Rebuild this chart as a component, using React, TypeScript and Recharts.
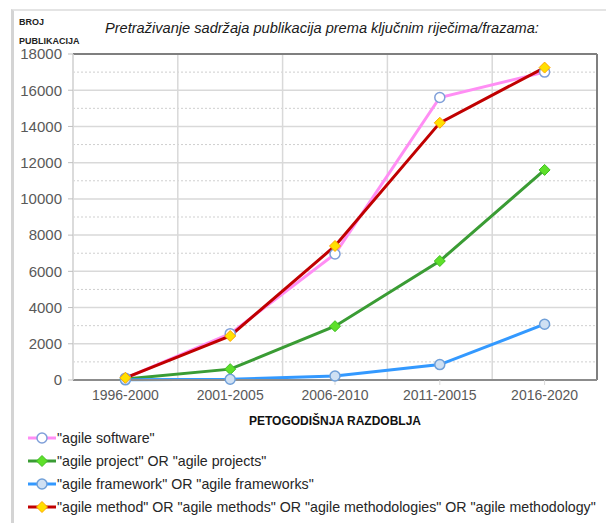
import { LineChart, Line, XAxis, YAxis, CartesianGrid, Legend, Label, ReferenceLine } from "recharts";

const periods = ["1996-2000", "2001-2005", "2006-2010", "2011-20015", "2016-2020"];
const agileSoftware = [100, 2560, 6960, 15600, 17000];
const agileProject = [50, 600, 2970, 6570, 11600];
const agileFramework = [10, 40, 220, 850, 3080];
const agileMethod = [120, 2430, 7400, 14200, 17250];

const yTicks = [0, 2000, 4000, 6000, 8000, 10000, 12000, 14000, 16000, 18000];
const yMinorTicks = [1000, 3000, 5000, 7000, 9000, 11000, 13000, 15000, 17000];

const data = periods.map((period, i) => ({
  period,
  software: agileSoftware[i],
  project: agileProject[i],
  framework: agileFramework[i],
  method: agileMethod[i],
}));

const FONT = "'Liberation Sans', Arial, sans-serif";

type Marker = { kind: "circle" | "diamond"; fill: string; stroke: string };

const series: { key: string; name: string; color: string; marker: Marker }[] = [
  { key: "software", name: '"agile software"', color: "#ff8ef4", marker: { kind: "circle", fill: "#ffffff", stroke: "#7f9fd9" } },
  { key: "project", name: '"agile project" OR "agile projects"', color: "#3a9c34", marker: { kind: "diamond", fill: "#5ee02a", stroke: "#3fbf22" } },
  { key: "framework", name: '"agile framework" OR "agile frameworks"', color: "#3399ff", marker: { kind: "circle", fill: "#cfe0f3", stroke: "#6f9fd8" } },
  { key: "method", name: '"agile method" OR "agile methods" OR "agile methodologies" OR "agile methodology"', color: "#c00000", marker: { kind: "diamond", fill: "#ffe000", stroke: "#ffa500" } },
];

function drawMarker(m: Marker, cx: number, cy: number, key?: string | number) {
  if (m.kind === "circle") {
    return <circle key={key} cx={cx} cy={cy} r={5} fill={m.fill} stroke={m.stroke} strokeWidth={1.5} />;
  }
  const s = 5.5;
  return (
    <polygon
      key={key}
      points={`${cx},${cy - s} ${cx + s},${cy} ${cx},${cy + s} ${cx - s},${cy}`}
      fill={m.fill}
      stroke={m.stroke}
      strokeWidth={1}
    />
  );
}

function LegendRows() {
  return (
    <div style={{ fontFamily: FONT, fontSize: 14.2, color: "#262626" }}>
      {series.map((s) => (
        <div key={s.key} style={{ display: "flex", alignItems: "center", height: 23, whiteSpace: "nowrap" }}>
          <svg width={30} height={14} style={{ marginRight: 0 }}>
            <line x1={1} y1={7} x2={29} y2={7} stroke={s.color} strokeWidth={3} />
            {drawMarker(s.marker, 15, 7)}
          </svg>
          <span>{s.name}</span>
        </div>
      ))}
    </div>
  );
}

export default function App() {
  return (
    <div style={{ position: "absolute", left: 0, top: 0, width: 606, height: 523, background: "#fff", overflow: "hidden" }}>
      <div style={{ position: "absolute", left: 11, top: 9, width: 600, height: 520, borderLeft: "3px solid #d4d4d4", borderTop: "2px solid #e4e4e4" }} />
      <div style={{ position: "absolute", left: 19, top: 13, fontFamily: FONT, fontSize: 9, fontWeight: "bold", lineHeight: "19px", color: "#222" }}>
        BROJ
        <br />
        PUBLIKACIJA
      </div>
      <div style={{ position: "absolute", left: 105, top: 20, fontFamily: FONT, fontSize: 14.6, fontStyle: "italic", color: "#1a1a1a" }}>
        Pretraživanje sadržaja publikacija prema ključnim riječima/frazama:
      </div>
      <LineChart
        width={606}
        height={523}
        data={data}
        margin={{ top: 54, right: 9, left: 14, bottom: 5 }}
        style={{ position: "absolute", left: 0, top: 0 }}
      >
        <CartesianGrid vertical={false} stroke="#d9d9d9" strokeWidth={1.5} />
        {yMinorTicks.map((v) => (
          <ReferenceLine key={`minor-${v}`} y={v} stroke="#cfcfcf" strokeDasharray="2 2" />
        ))}
        {periods.map((p) => (
          <ReferenceLine key={`edge-${p}`} x={p} position="start" stroke="#d9d9d9" strokeWidth={1.5} />
        ))}
        <ReferenceLine x={periods[periods.length - 1]} position="end" stroke="#7f7f7f" strokeWidth={2} />
        <ReferenceLine y={yTicks[yTicks.length - 1]} stroke="#7f7f7f" strokeWidth={2} />
        <XAxis
          dataKey="period"
          scale="band"
          height={46}
          tick={{ fontFamily: FONT, fontSize: 14, fill: "#595959" }}
          tickSize={5}
          tickMargin={5}
          tickLine={{ stroke: "#d9d9d9" }}
          axisLine={{ stroke: "#8c8c8c", strokeWidth: 2 }}
        >
          <Label
            value="PETOGODIŠNJA RAZDOBLJA"
            position="insideBottom"
            offset={1}
            style={{ fontFamily: FONT, fontSize: 12, fontWeight: "bold", fill: "#111" }}
          />
        </XAxis>
        <YAxis
          domain={[0, 18000]}
          ticks={yTicks}
          width={59}
          tick={{ fontFamily: FONT, fontSize: 15, fill: "#595959" }}
          tickSize={5}
          tickMargin={6}
          tickLine={{ stroke: "#bfbfbf" }}
          axisLine={{ stroke: "#d9d9d9", strokeWidth: 1.5 }}
        />
        <Legend
          verticalAlign="bottom"
          align="left"
          content={() => <LegendRows />}
          wrapperStyle={{ left: 27, width: 579 }}
        />
        {series.map((s) => (
          <Line
            key={s.key}
            dataKey={s.key}
            name={s.name}
            stroke={s.color}
            strokeWidth={3}
            dot={(p: any) => drawMarker(s.marker, p.cx, p.cy, `${s.key}-${p.index}`)}
            activeDot={false}
            isAnimationActive={false}
          />
        ))}
      </LineChart>
    </div>
  );
}
